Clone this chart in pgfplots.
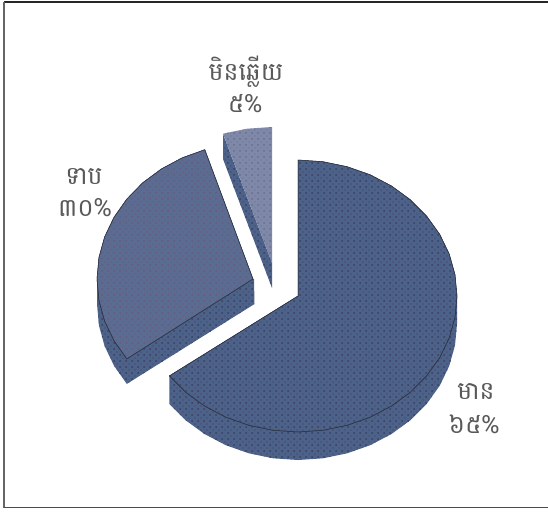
\documentclass[border=0pt]{standalone}
\usepackage{pgfplots}
\pgfplotsset{compat=1.18}
\usepackage{fontspec}
\newfontfamily\khmer[Script=Khmer]{Battambang}
\usetikzlibrary{patterns}
\definecolor{bigc}{HTML}{4C6288}
\definecolor{bigdot}{HTML}{3E3D62}
\definecolor{leftc}{HTML}{5A6C92}
\definecolor{leftdot}{HTML}{6A5A7C}
\definecolor{topc}{HTML}{7E88A8}
\definecolor{topdot}{HTML}{6E6C8C}
\definecolor{edgec}{HTML}{2E3648}
% halftone of the original: staggered dots, 6px apart
\pgfdeclarepatternformonly{halftone}{\pgfqpoint{-1pt}{-1pt}}{\pgfqpoint{5pt}{5pt}}{\pgfqpoint{6pt}{6pt}}{
  \pgfpathcircle{\pgfqpoint{0pt}{0pt}}{1pt}
  \pgfpathcircle{\pgfqpoint{3pt}{3pt}}{0.7pt}
  \pgfusepath{fill}
}
\pgfplotsset{
  bigface/.style={fill=bigc, postaction={pattern=halftone, pattern color=bigdot}},
  leftface/.style={fill=leftc, postaction={pattern=halftone, pattern color=leftdot}},
  topface/.style={fill=topc, postaction={pattern=halftone, pattern color=topdot}},
}
\tikzset{lab/.style={font=\khmer\fontsize{25}{25}\selectfont, text=black!65, inner sep=0pt}}
\begin{document}
\begin{tikzpicture}
\begin{axis}[
    at={(0,0)}, anchor=north west,
    width=548pt, height=511pt, scale only axis,
    xmin=0, xmax=548, ymin=0, ymax=511, y dir=reverse,
    hide axis, clip=true,
  ]
  % page and frame, the right side is open
  \addplot[fill=white, draw=none] coordinates {(0,0) (548,0) (548,511) (0,511)} --cycle;
  \addplot[draw=black!85, line width=1.6pt] coordinates {(548,2) (4,2)};
  \addplot[draw=black!60, line width=2pt] coordinates {(4,2) (4,507.5)};
  \addplot[draw=black!70, line width=1.4pt] coordinates {(4,507.5) (548,507.5)};

  % big slice, 65%: wall then top
  \addplot[bigface, draw=none] coordinates {
    (457,296) (457,324) (455,345.3) (449.2,366) (439.7,385.7) (426.6,403.9) (410.4,420.2)
    (391.5,434) (370.2,445.2) (347.1,453.3) (322.9,458.3) (298,460) (273.1,458.3)
    (248.9,453.3) (225.8,445.2) (204.5,434) (185.6,420.2) (169.4,403.9) (169.4,375.9) (298,296)
  } --cycle;
  \addplot[bigface, draw=edgec, line width=0.5pt] coordinates {
    (298,160) (322.9,161.7) (347.1,166.7) (370.2,174.8) (391.5,186) (410.4,199.8)
    (426.6,216.1) (439.7,234.3) (449.2,254) (455,274.7) (457,296) (455,317.3) (449.2,338)
    (439.7,357.7) (426.6,375.9) (410.4,392.2) (391.5,406) (370.2,417.2) (347.1,425.3)
    (322.9,430.3) (298,432) (273.1,430.3) (248.9,425.3) (225.8,417.2) (204.5,406)
    (185.6,392.2) (169.4,375.9) (298,296)
  } --cycle;

  % left slice, 30%
  \addplot[bigface, draw=none] coordinates {
    (97,279) (97,304) (98.9,325.3) (104.6,346) (114,365.7) (126.8,383.9) (254.5,304)
    (254,279) (253,279) (126.8,358.9)
  } --cycle;
  \addplot[leftface, draw=edgec, line width=0.5pt] coordinates {
    (253,279) (126.8,358.9) (114,340.7) (104.6,321) (98.9,300.3) (97,279) (98.9,257.7)
    (104.6,237) (114,217.3) (126.8,199.1) (142.7,182.8) (161.3,169) (182.2,157.8) (204.8,149.7)
  } --cycle;

  % top slice, 5%
  \addplot[bigface, draw=none] coordinates {(223,134) (223,159) (272,288) (272,263)} --cycle;
  \addplot[topface, draw=none] coordinates {(272,263) (223,133.7) (247.1,128.7) (272,127)} --cycle;

  % labels
  \node[lab] at (axis cs:246,72) {មិនឆ្លើយ};
  \node[lab] at (axis cs:245,104) {៥\%};
  \node[lab] at (axis cs:84,177) {ទាប};
  \node[lab] at (axis cs:85,208) {៣០\%};
  \node[lab] at (axis cs:476,392) {មាន};
  \node[lab] at (axis cs:474,424) {៦៥\%};
\end{axis}
\end{tikzpicture}
\end{document}
